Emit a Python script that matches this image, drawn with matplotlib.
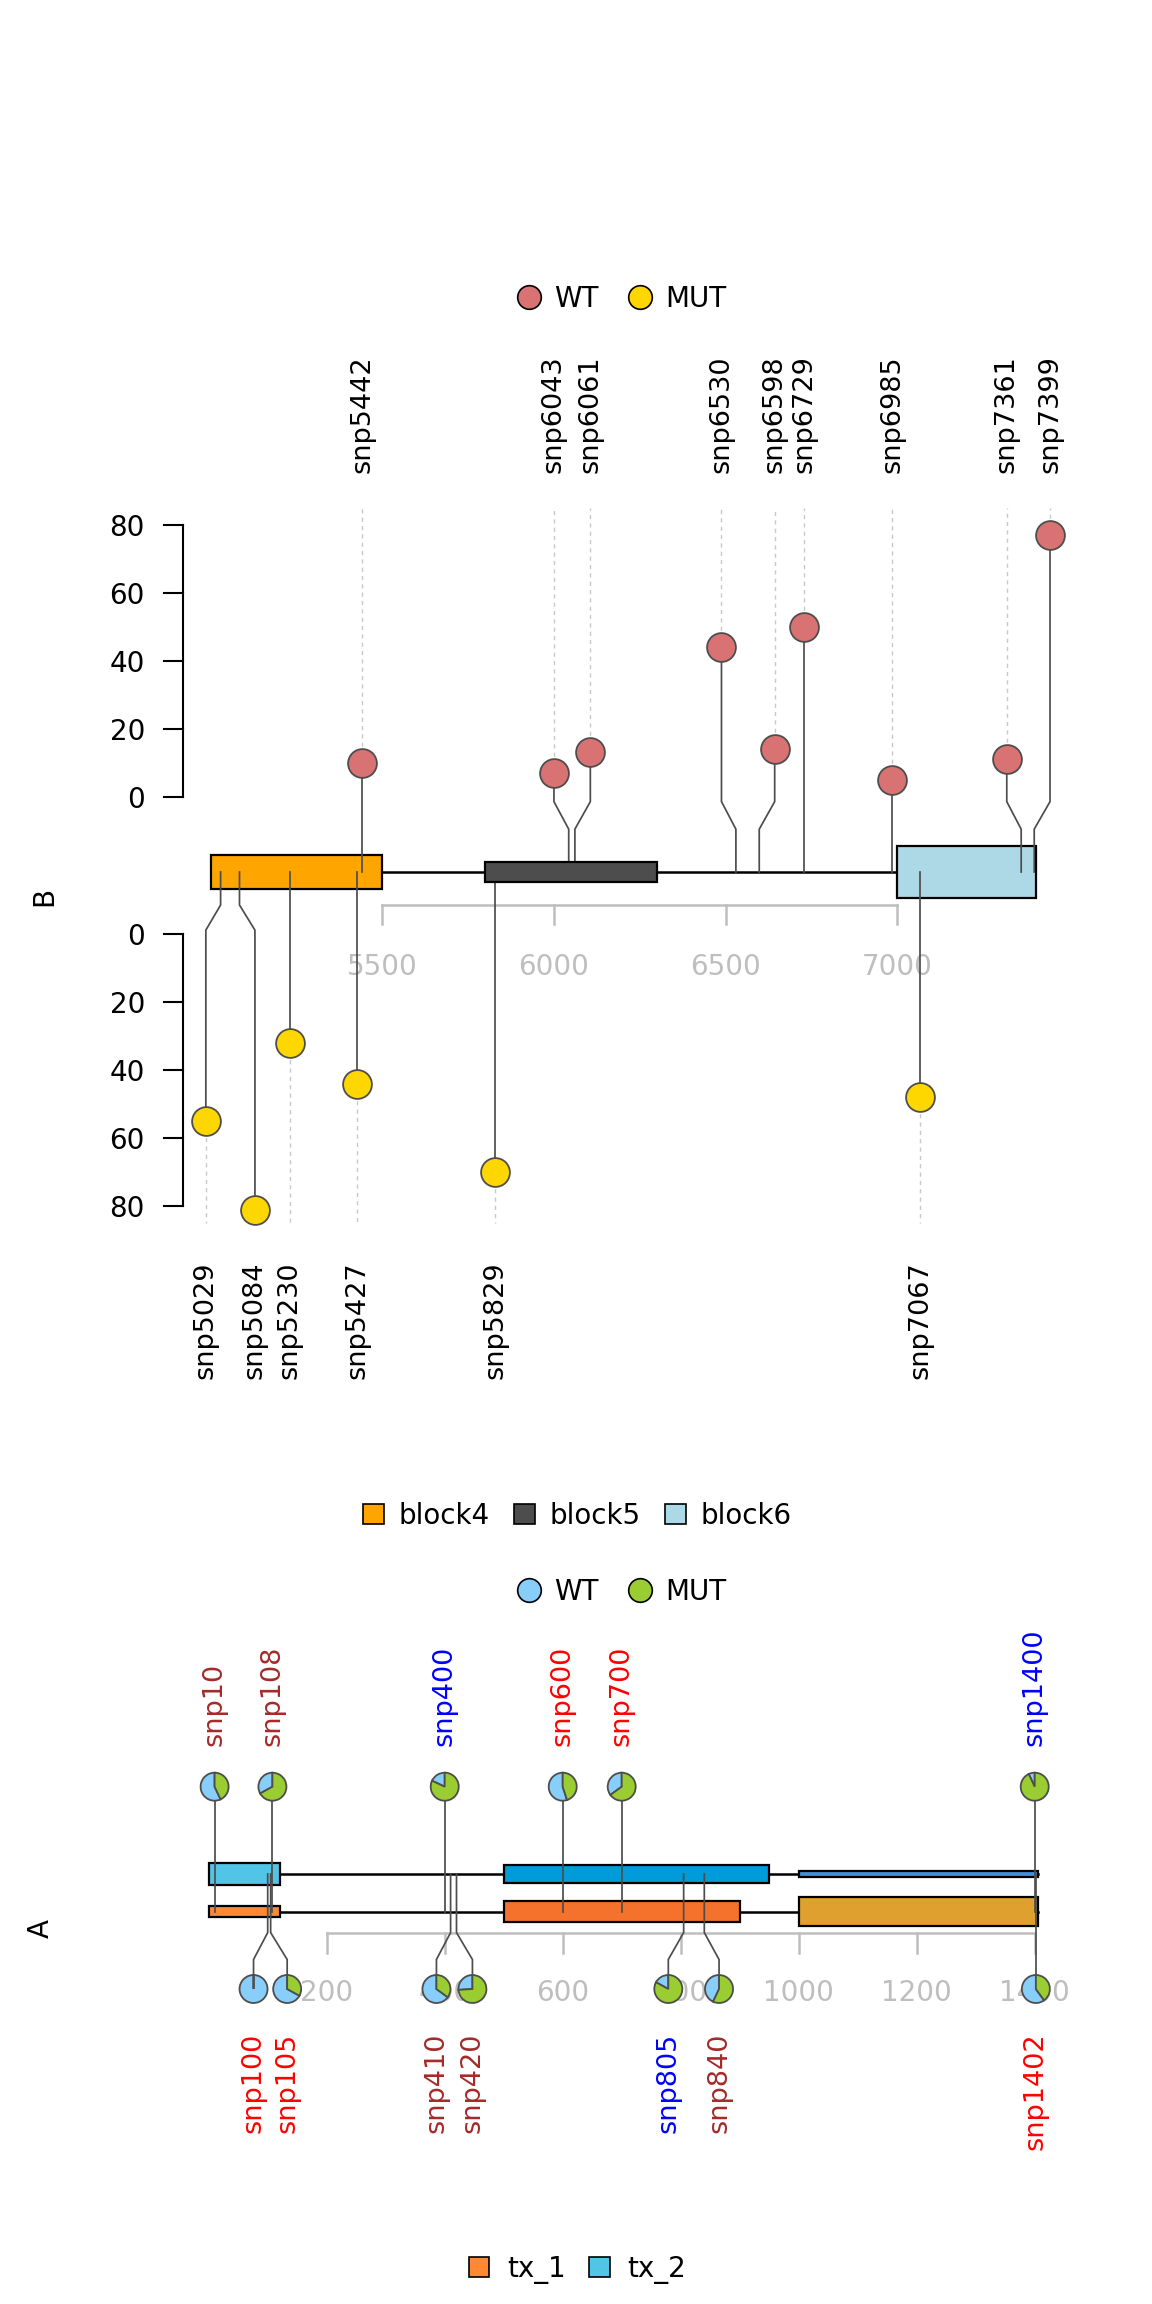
import matplotlib
matplotlib.use('Agg')
import matplotlib.pyplot as plt
import matplotlib.transforms as mtransforms
from matplotlib.patches import Rectangle, Wedge, Patch
from matplotlib.lines import Line2D

# ======================= DATA =======================
# ---- Panel B ----
b_block_names = ['block4', 'block5', 'block6']
b_block_start = [5000, 5800, 7000]
b_block_end = [5500, 6300, 7405]

b_wt_ids = ['snp5442', 'snp6043', 'snp6061', 'snp6530', 'snp6598',
            'snp6729', 'snp6985', 'snp7361', 'snp7399']
b_wt_pos = [5442, 6043, 6061, 6530, 6598, 6729, 6985, 7361, 7399]
b_wt_label_pos = [5442, 6000, 6106, 6488, 6643, 6729, 6985, 7319, 7445]
b_wt_score = [10, 7, 13, 44, 14, 50, 5, 11, 77]

b_mut_ids = ['snp5029', 'snp5084', 'snp5230', 'snp5427', 'snp5829', 'snp7067']
b_mut_pos = [5029, 5084, 5230, 5427, 5829, 7067]
b_mut_label_pos = [4986, 5129, 5230, 5427, 5829, 7067]
b_mut_score = [55, 81, 32, 44, 70, 48]

b_score_ticks = [0, 20, 40, 60, 80]
b_gene_ticks = [5500, 6000, 6500, 7000]

# ---- Panel A ----
a_tx_names = ['tx_1', 'tx_2']
a_tx1_start = [0, 500, 1000]
a_tx1_end = [120, 900, 1405]
a_tx2_start = [0, 500, 1000]
a_tx2_end = [120, 950, 1405]

a_top_ids = ['snp10', 'snp108', 'snp400', 'snp600', 'snp700', 'snp1400']
a_top_pos = [10, 108, 400, 600, 700, 1400]
a_top_mut_frac = [0.43, 0.67, 0.82, 0.45, 0.65, 0.93]
a_top_label_color = ['#A52A2A', '#A52A2A', '#0000FF', '#FF0000', '#FF0000', '#0000FF']

a_bot_ids = ['snp100', 'snp105', 'snp410', 'snp420', 'snp805', 'snp840', 'snp1402']
a_bot_pos = [100, 105, 410, 420, 805, 840, 1402]
a_bot_label_pos = [76, 133, 386, 447, 779, 865, 1402]
a_bot_mut_frac = [0.0, 0.33, 0.35, 0.74, 0.83, 0.57, 0.40]
a_bot_label_color = ['#FF0000', '#FF0000', '#A52A2A', '#A52A2A', '#0000FF', '#A52A2A', '#FF0000']

a_gene_ticks = [200, 400, 600, 800, 1000, 1200, 1400]

# ======================= STYLE =======================
FIG_W, FIG_H, DPI = 1152, 2304, 100
LABEL_FONT = 'DejaVu Sans'
TICK_FONT = 'DejaVu Sans'
STEM_C = '#4D4D4D'
DOT_C = '#C8C8C8'
GRAY_AX = '#BEBEBE'
WT_B, MUT_B = '#D97373', '#FFD700'
WT_A, MUT_A = '#87CEFA', '#9ACD32'
b_block_colors = ['#FFA500', '#4D4D4D', '#ADD8E6']
b_block_half = [4.9, 2.9, 7.7]
b_block_z = [2, 4, 2]
a_tx1_colors = ['#FF8833', '#F5722C', '#E0A030']
a_tx1_half = [5.4, 10.2, 14.1]
a_tx2_colors = ['#52C5E6', '#009BD8', '#4590DA']
a_tx2_half = [10.6, 8.7, 2.9]
a_tx_legend_colors = ['#FF8833', '#52C5E6']

fig = plt.figure(figsize=(FIG_W / DPI, FIG_H / DPI), dpi=DPI)

# ======================= PANEL B =======================
B_PPB, B_X0_BP, B_X0_PX = 0.3433, 5500, 382.3
B_PPU, B_TRACK_ROW = 3.4, 872.0
axB = fig.add_axes([0, 0, 1, 1])
bx_left = B_X0_BP - B_X0_PX / B_PPB
axB.set_xlim(bx_left, bx_left + FIG_W / B_PPB)
axB.set_ylim(-(FIG_H - B_TRACK_ROW) / B_PPU, B_TRACK_ROW / B_PPU)
axB.axis('off')


def bx(px):
    return bx_left + px / B_PPB


TOP0 = 22.2      # upper score zero
BOT0 = 18.3      # lower score zero
TOP_BEND = (12.6, 20.7)
BOT_BEND = (-9.7, -17.1)

# track line and blocks
axB.plot([min(b_block_start), max(b_block_end)], [0, 0], color='black', lw=1.8, zorder=1,
         solid_capstyle='butt')
for s, e, c, h, z in zip(b_block_start, b_block_end, b_block_colors, b_block_half, b_block_z):
    axB.add_patch(Rectangle((s, -h), e - s, 2 * h, facecolor=c, edgecolor='black', lw=1.6, zorder=z))

# upper lollipops (WT)
for sid, p, lp, sc in zip(b_wt_ids, b_wt_pos, b_wt_label_pos, b_wt_score):
    yc = TOP0 + sc
    axB.plot([p, p, lp, lp], [0, TOP_BEND[0], TOP_BEND[1], yc], color=STEM_C, lw=1.25, zorder=3)
    axB.plot([lp, lp], [yc, TOP0 + 85], color=DOT_C, lw=1.0, ls=(0, (3, 3)), zorder=1)
    axB.scatter([lp], [yc], s=430, color=WT_B, edgecolors='#4D4D4D', linewidths=1.3, zorder=5)
    axB.text(lp, 117.5, sid, rotation=90, ha='center', va='bottom', fontsize=19.5,
             family=LABEL_FONT, color='black')

# lower lollipops (MUT)
for sid, p, lp, sc in zip(b_mut_ids, b_mut_pos, b_mut_label_pos, b_mut_score):
    yc = -(BOT0 + sc)
    axB.plot([p, p, lp, lp], [0, BOT_BEND[0], BOT_BEND[1], yc], color=STEM_C, lw=1.25, zorder=3)
    axB.plot([lp, lp], [yc, -(BOT0 + 85)], color=DOT_C, lw=1.0, ls=(0, (3, 3)), zorder=1)
    axB.scatter([lp], [yc], s=430, color=MUT_B, edgecolors='#4D4D4D', linewidths=1.3, zorder=5)
    axB.text(lp, -114.5, sid, rotation=90, ha='center', va='top', fontsize=19.5,
             family=LABEL_FONT, color='black')

# score axes
xa, xt, xl = bx(183.3), bx(164.0), bx(145.0)
for sign, zero in ((1, TOP0), (-1, -BOT0)):
    ys = [zero + sign * t for t in b_score_ticks]
    axB.plot([xa, xa], [min(ys), max(ys)], color='black', lw=1.5, zorder=3)
    for t, y in zip(b_score_ticks, ys):
        axB.plot([xt, xa], [y, y], color='black', lw=1.5, zorder=3)
        axB.text(xl, y, str(t), ha='right', va='center_baseline', fontsize=20, family=TICK_FONT)

# genomic axis (gray)
GA_Y, GA_T, GA_L = -9.7, -15.4, -27.1
axB.plot([b_gene_ticks[0], b_gene_ticks[-1]], [GA_Y, GA_Y], color=GRAY_AX, lw=1.8, zorder=1)
for t in b_gene_ticks:
    axB.plot([t, t], [GA_Y, GA_T], color=GRAY_AX, lw=1.8, zorder=1)
    axB.text(t, GA_L, str(t), ha='center', va='center_baseline', fontsize=20,
             family=TICK_FONT, color=GRAY_AX, zorder=1)

axB.text(bx(44), (B_TRACK_ROW - 896) / B_PPU, 'B', rotation=90, ha='center', va='center',
         fontsize=20, family=TICK_FONT)

# ======================= PANEL A =======================
A_PPB, A_X0_BP, A_X0_PX = 0.590, 200, 326.7
A_TRACK_ROW = 1874.0
axA = fig.add_axes([0, 0, 1, 1])
ax_left = A_X0_BP - A_X0_PX / A_PPB
axA.set_xlim(ax_left, ax_left + FIG_W / A_PPB)
axA.set_ylim(-(FIG_H - A_TRACK_ROW), A_TRACK_ROW)
axA.axis('off')


def axx(px):
    return ax_left + px / A_PPB


TX2_Y, TX1_Y = 0.0, -37.5
for ys, starts, ends, cols, halves in ((TX2_Y, a_tx2_start, a_tx2_end, a_tx2_colors, a_tx2_half),
                                      (TX1_Y, a_tx1_start, a_tx1_end, a_tx1_colors, a_tx1_half)):
    axA.plot([min(starts), max(ends)], [ys, ys], color='black', lw=1.8, zorder=1)
    for s, e, c, h in zip(starts, ends, cols, halves):
        axA.add_patch(Rectangle((s, ys - h), e - s, 2 * h, facecolor=c, edgecolor='black',
                                lw=1.6, zorder=2))

PIE_R = 0.14  # inches


def draw_pie(ax, x, y, frac):
    trans = fig.dpi_scale_trans + mtransforms.ScaledTranslation(x, y, ax.transData)
    mut_span = frac * 360.0
    wt_span = min(360.0 - mut_span, 359.9)
    ax.add_patch(Wedge((0, 0), PIE_R, 90, 90 + wt_span, transform=trans, facecolor=WT_A,
                       edgecolor='#4D4D4D', lw=1.3, zorder=6))
    if mut_span > 0:
        ax.add_patch(Wedge((0, 0), PIE_R, 90 - mut_span, 90, transform=trans, facecolor=MUT_A,
                           edgecolor='#4D4D4D', lw=1.3, zorder=6))


TOP_PIE_Y = 87.3
for sid, p, fr, lc in zip(a_top_ids, a_top_pos, a_top_mut_frac, a_top_label_color):
    axA.plot([p, p], [TX1_Y, TOP_PIE_Y], color=STEM_C, lw=1.25, zorder=3)
    draw_pie(axA, p, TOP_PIE_Y, fr)
    axA.text(p, 128.3, sid, rotation=90, ha='center', va='bottom', fontsize=19.5,
             family=LABEL_FONT, color=lc)

BOT_PIE_Y = -115.0
A_BEND = (-58.6, -85.5)
for sid, p, lp, fr, lc in zip(a_bot_ids, a_bot_pos, a_bot_label_pos, a_bot_mut_frac, a_bot_label_color):
    axA.plot([p, p, lp, lp], [TX2_Y, A_BEND[0], A_BEND[1], BOT_PIE_Y], color=STEM_C, lw=1.25, zorder=3)
    draw_pie(axA, lp, BOT_PIE_Y, fr)
    axA.text(lp, -158.5, sid, rotation=90, ha='center', va='top', fontsize=19.5,
             family=LABEL_FONT, color=lc)

GAA_Y, GAA_T, GAA_L = -58.6, -78.6, -116.0
axA.plot([a_gene_ticks[0], a_gene_ticks[-1]], [GAA_Y, GAA_Y], color=GRAY_AX, lw=1.8, zorder=1)
for t in a_gene_ticks:
    axA.plot([t, t], [GAA_Y, GAA_T], color=GRAY_AX, lw=1.8, zorder=1)
    axA.text(t, GAA_L, str(t), ha='center', va='center_baseline', fontsize=20,
             family=TICK_FONT, color=GRAY_AX, zorder=1)

axA.text(axx(41), A_TRACK_ROW - 1928, 'A', rotation=90, ha='center', va='center',
         fontsize=20, family=TICK_FONT)

# ======================= LEGENDS =======================
leg_font = {'family': TICK_FONT, 'size': 20}


def circle_handles(cols):
    return [Line2D([0], [0], marker='o', ls='none', markersize=17, markerfacecolor=c,
                   markeredgecolor='black', markeredgewidth=1.2) for c in cols]


def fy(row):
    return 1 - row / FIG_H


fig.legend(circle_handles([WT_B, MUT_B]), ['WT', 'MUT'], loc='center',
           bbox_to_anchor=(0.539, fy(299)), ncol=2, frameon=False, prop=leg_font,
           handlelength=1.0, handletextpad=0.4, columnspacing=1.01)

fig.legend([Patch(facecolor=c, edgecolor='black', lw=1.2) for c in b_block_colors], b_block_names,
           loc='center', bbox_to_anchor=(0.5013, fy(1516)), ncol=3, frameon=False, prop=leg_font,
           handlelength=0.75, handleheight=0.75, handletextpad=0.52, columnspacing=0.885)

fig.legend(circle_handles([WT_A, MUT_A]), ['WT', 'MUT'], loc='center',
           bbox_to_anchor=(0.539, fy(1592)), ncol=2, frameon=False, prop=leg_font,
           handlelength=1.0, handletextpad=0.4, columnspacing=1.01)

fig.legend([Patch(facecolor=c, edgecolor='black', lw=1.2) for c in a_tx_legend_colors], a_tx_names,
           loc='center', bbox_to_anchor=(0.501, fy(2269)), ncol=2, frameon=False, prop=leg_font,
           handlelength=0.75, handleheight=0.75, handletextpad=0.63, columnspacing=0.83)

fig.savefig('out.png', dpi=DPI, facecolor='white')
